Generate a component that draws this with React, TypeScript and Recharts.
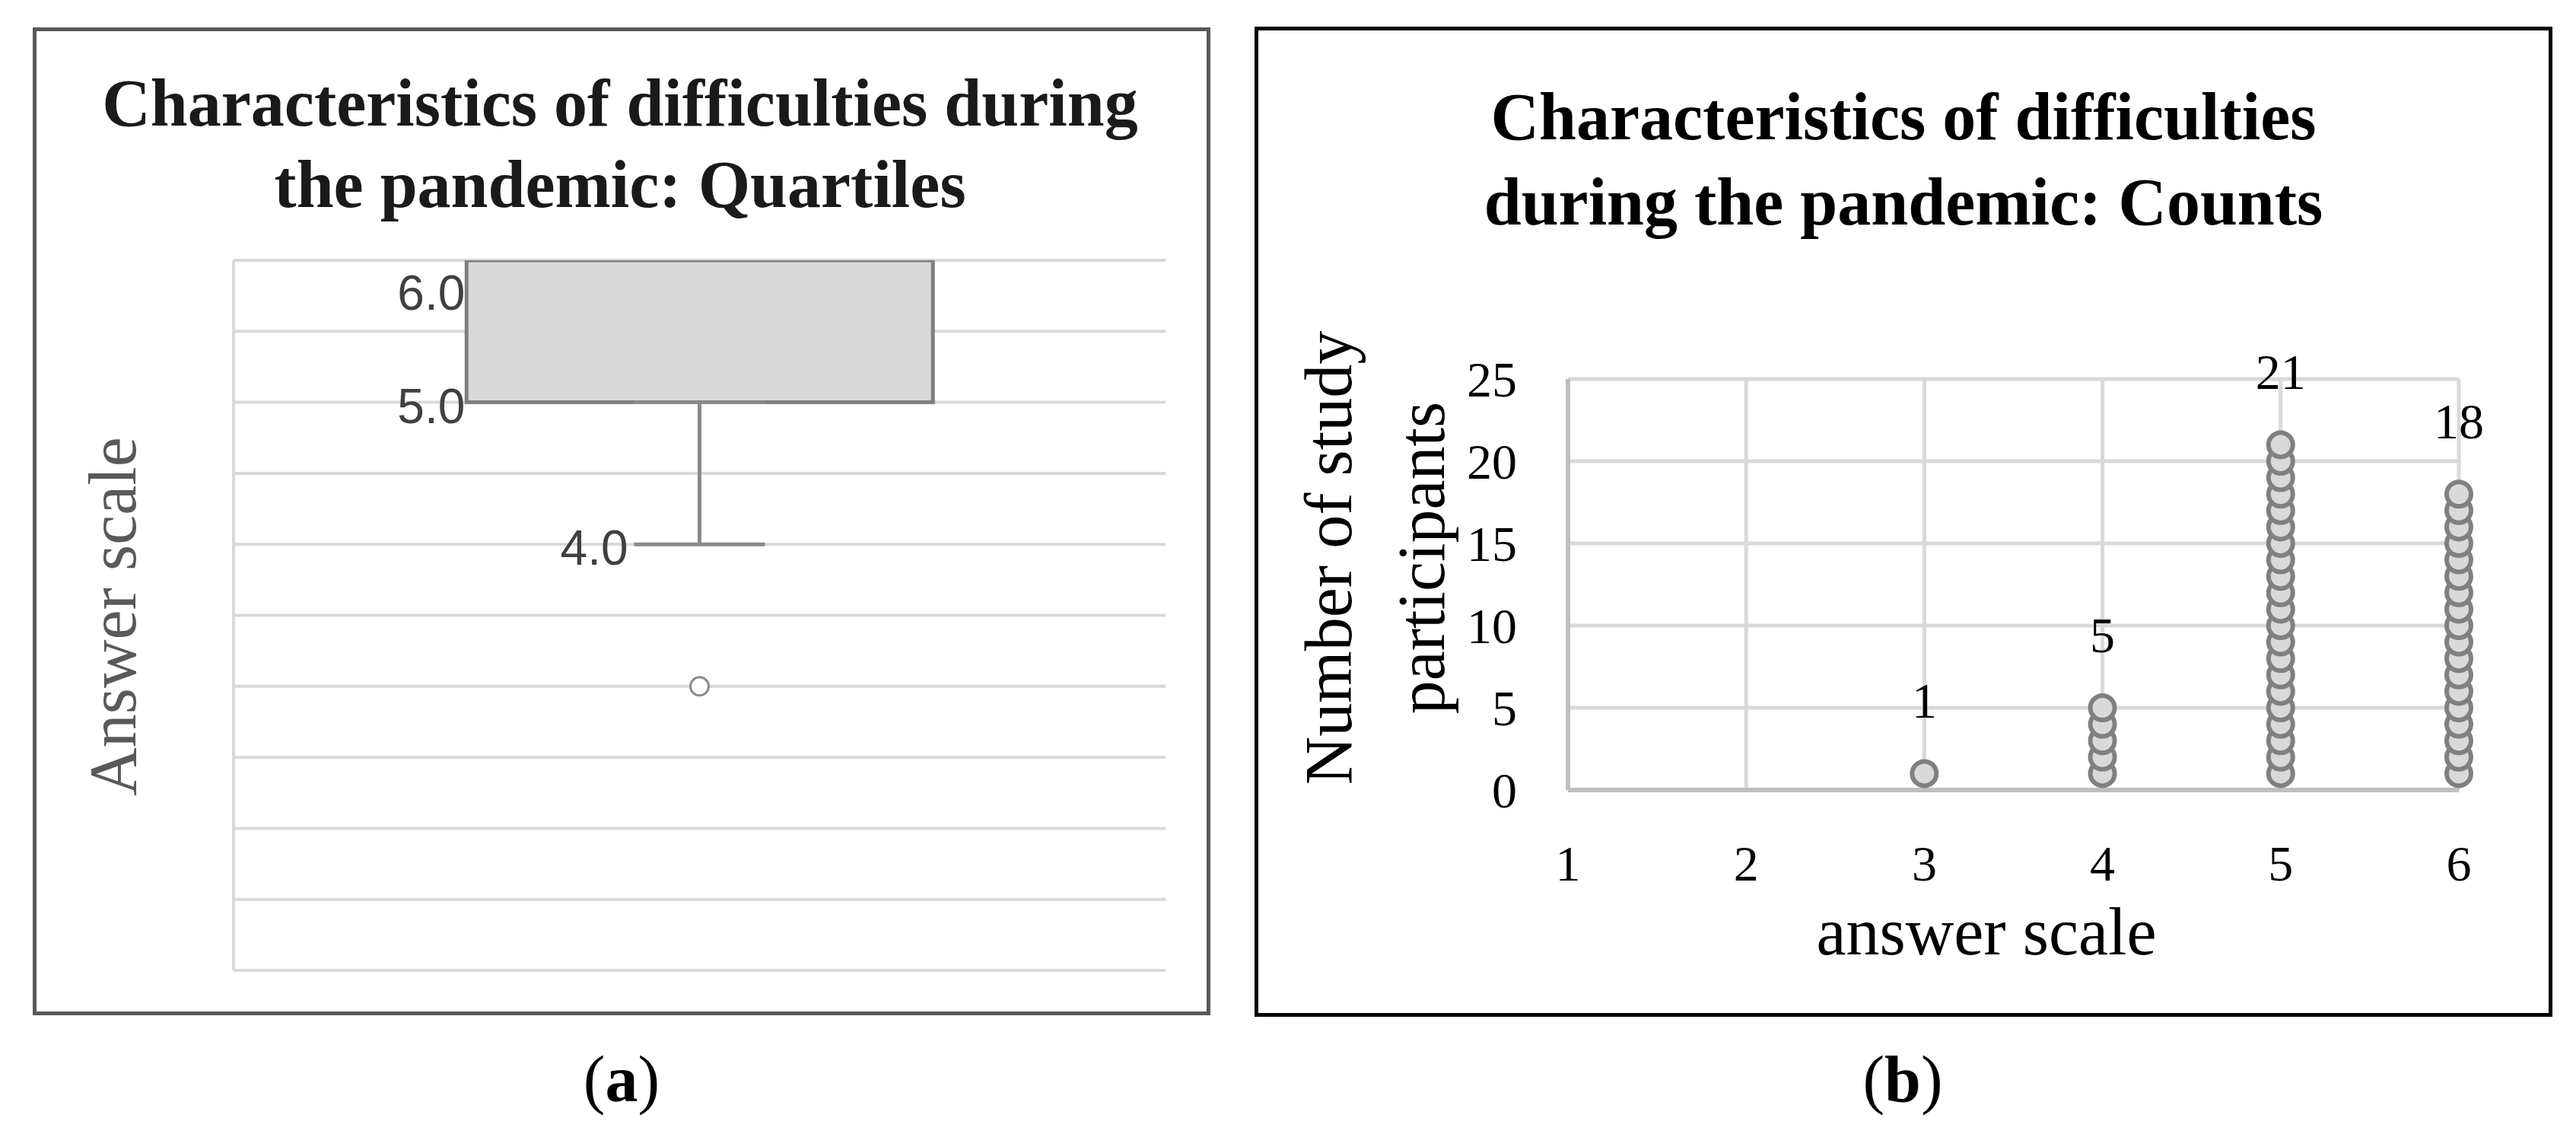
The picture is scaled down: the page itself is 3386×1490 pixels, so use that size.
import React from 'react';
import {
  ComposedChart,
  ScatterChart,
  Bar,
  Scatter,
  ErrorBar,
  XAxis,
  YAxis,
  CartesianGrid,
} from 'recharts';

// ---------- Panel (a): quartiles box plot ----------
const boxGroups = ['Difficulties during the pandemic'];
const lowerQuartile = [5.0];
const upperQuartile = [6.0];
const lowerWhisker = [4.0];
const outlierValues = [3.0];
const answerScaleTicksA = [1, 1.5, 2, 2.5, 3, 3.5, 4, 4.5, 5, 5.5, 6];

// ---------- Panel (b): dot counts ----------
const answerScale = [1, 2, 3, 4, 5, 6];
const participantCounts = [0, 0, 1, 5, 21, 18];
const countTicks = [0, 5, 10, 15, 20, 25];

const boxData = boxGroups.map((g, i) => ({
  group: g,
  box: [lowerQuartile[i], upperQuartile[i]],
  low: lowerWhisker[i],
  whiskerErr: [0, lowerQuartile[i] - lowerWhisker[i]],
}));
const outlierData = outlierValues.map((v) => ({ group: boxGroups[0], outlier: v }));

const dotData: { answer: number; participant: number }[] = [];
answerScale.forEach((a, i) => {
  for (let k = 1; k <= participantCounts[i]; k++) dotData.push({ answer: a, participant: k });
});
const topData = answerScale
  .map((a, i) => ({ answer: a, count: participantCounts[i] }))
  .filter((d) => d.count > 0);

const SERIF = '"Liberation Serif", "Times New Roman", serif';
const NARROW = '"Liberation Sans Narrow", "Liberation Sans", Arial, sans-serif';

const BoxLabels = (props: any) => {
  const { x, y, height, index } = props;
  const top = Math.min(y, y + height);
  const bottom = Math.max(y, y + height);
  return (
    <g>
      <text x={x - 2} y={top + 65} textAnchor="end" fontFamily={NARROW} fontSize={64} fill="#404040">
        {upperQuartile[index].toFixed(1)}
      </text>
      <text x={x - 2} y={bottom + 27} textAnchor="end" fontFamily={NARROW} fontSize={64} fill="#404040">
        {lowerQuartile[index].toFixed(1)}
      </text>
    </g>
  );
};

const WhiskerPoint = (props: any) => {
  const { cx, cy, payload } = props;
  return (
    <text x={cx - 94} y={cy + 27} textAnchor="end" fontFamily={NARROW} fontSize={64} fill="#404040">
      {payload.low.toFixed(1)}
    </text>
  );
};

const OutlierDot = (props: any) => (
  <circle cx={props.cx} cy={props.cy} r={12} fill="#ffffff" stroke="#8c8c8c" strokeWidth={3} />
);

const CountDot = (props: any) => (
  <circle cx={props.cx} cy={props.cy} r={16} fill="#d9d9d9" stroke="#808080" strokeWidth={6} />
);

const CountLabel = (props: any) => (
  <text x={props.cx} y={props.cy - 73} textAnchor="middle" fontFamily={SERIF} fontSize={66} fill="#000">
    {props.payload.count}
  </text>
);

const NoTick = () => <g />;

export default function App() {
  return (
    <div
      style={{
        position: 'absolute',
        left: 0,
        top: 0,
        width: 3386,
        height: 1490,
        background: '#ffffff',
        overflow: 'hidden',
        fontFamily: SERIF,
      }}
    >
      {/* panel frames */}
      <div
        style={{
          position: 'absolute',
          left: 43,
          top: 36,
          width: 1548,
          height: 1298,
          border: '5px solid #595959',
          boxSizing: 'border-box',
        }}
      />
      <div
        style={{
          position: 'absolute',
          left: 1649,
          top: 35,
          width: 1706,
          height: 1301,
          border: '5px solid #000000',
          boxSizing: 'border-box',
        }}
      />

      {/* (a) box plot */}
      <div style={{ position: 'absolute', left: 0, top: 0 }}>
        <ComposedChart
          width={1640}
          height={1490}
          data={boxData}
          margin={{ top: 342, left: 297, right: 108, bottom: 215 }}
          barCategoryGap="25%"
        >
          <CartesianGrid
            vertical={false}
            horizontalValues={answerScaleTicksA}
            stroke="#d9d9d9"
            strokeWidth={4}
          />
          <XAxis dataKey="group" type="category" allowDuplicatedCategory={false} hide />
          <YAxis
            type="number"
            domain={[1, 6]}
            ticks={answerScaleTicksA}
            interval={0}
            allowDataOverflow
            width={10}
            tick={NoTick}
            tickLine={false}
            axisLine={{ stroke: '#d9d9d9', strokeWidth: 4 }}
          />
          <Scatter dataKey="low" shape={WhiskerPoint} isAnimationActive={false}>
            <ErrorBar
              dataKey="whiskerErr"
              direction="y"
              width={86}
              stroke="#8a8a8a"
              strokeWidth={5}
              isAnimationActive={false}
            />
          </Scatter>
          <Bar
            dataKey="box"
            fill="#d9d9d9"
            stroke="#7f7f7f"
            strokeWidth={5}
            isAnimationActive={false}
            label={BoxLabels}
          />
          <Scatter data={outlierData} dataKey="outlier" shape={OutlierDot} isAnimationActive={false} />
        </ComposedChart>
      </div>

      {/* (b) dot chart */}
      <div style={{ position: 'absolute', left: 1640, top: 0 }}>
        <ScatterChart width={1746} height={1490} margin={{ top: 498, right: 154, bottom: 352, left: 0 }}>
          <CartesianGrid stroke="#d9d9d9" strokeWidth={5} />
          <XAxis
            type="number"
            dataKey="answer"
            domain={[1, 6]}
            ticks={answerScale}
            interval={0}
            height={100}
            tickSize={0}
            tickMargin={72}
            axisLine={{ stroke: '#bfbfbf', strokeWidth: 6 }}
            tick={{ fill: '#000', fontSize: 66, fontFamily: SERIF }}
          />
          <YAxis
            type="number"
            domain={[0, 25]}
            ticks={countTicks}
            interval={0}
            width={421}
            tickSize={0}
            tickMargin={67}
            axisLine={{ stroke: '#bfbfbf', strokeWidth: 6 }}
            tick={{ fill: '#000', fontSize: 66, fontFamily: SERIF }}
          />
          <Scatter data={dotData} dataKey="participant" shape={CountDot} isAnimationActive={false} />
          <Scatter data={topData} dataKey="count" shape={CountLabel} isAnimationActive={false} />
        </ScatterChart>
      </div>

      {/* titles, axis titles, captions */}
      <svg
        width={3386}
        height={1490}
        style={{ position: 'absolute', left: 0, top: 0, pointerEvents: 'none' }}
        fontFamily={SERIF}
      >
        <text x={815} y={165} textAnchor="middle" fontSize={88} fontWeight="bold" fill="#1a1a1a">
          Characteristics of difficulties during
        </text>
        <text x={815} y={272} textAnchor="middle" fontSize={88} fontWeight="bold" fill="#1a1a1a">
          the pandemic: Quartiles
        </text>
        <text x={178} y={810} textAnchor="middle" fontSize={88} fill="#595959" transform="rotate(-90 178 810)">
          Answer scale
        </text>

        <text x={2502} y={183} textAnchor="middle" fontSize={88} fontWeight="bold" fill="#000">
          Characteristics of difficulties
        </text>
        <text x={2502} y={295} textAnchor="middle" fontSize={88} fontWeight="bold" fill="#000">
          during the pandemic: Counts
        </text>
        <text x={1776} y={733} textAnchor="middle" fontSize={88} fill="#000" transform="rotate(-90 1776 733)">
          Number of study
        </text>
        <text x={1898} y={733} textAnchor="middle" fontSize={88} fill="#000" transform="rotate(-90 1898 733)">
          participants
        </text>
        <text x={2611} y={1254} textAnchor="middle" fontSize={88} fill="#000">
          answer scale
        </text>

        <text x={817} y={1447} textAnchor="middle" fontSize={86} fill="#000">
          (<tspan fontWeight="bold">a</tspan>)
        </text>
        <text x={2501} y={1447} textAnchor="middle" fontSize={86} fill="#000">
          (<tspan fontWeight="bold">b</tspan>)
        </text>
      </svg>
    </div>
  );
}
